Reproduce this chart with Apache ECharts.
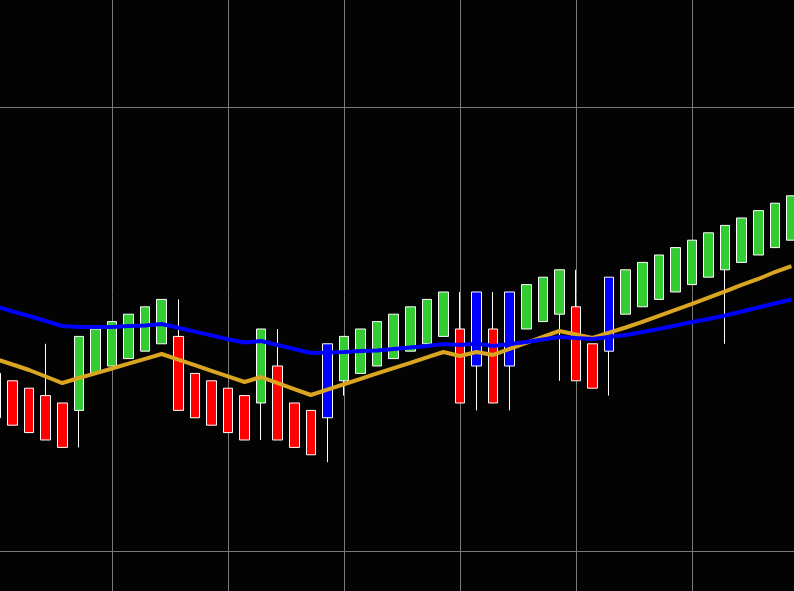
<!DOCTYPE html>
<html>
<head>
<meta charset="utf-8">
<script src="https://cdn.jsdelivr.net/npm/echarts@6/dist/echarts.min.js"></script>
<style>
html,body{margin:0;padding:0;background:#030303;}
#chart{width:794px;height:591px;}
</style>
</head>
<body>
<div id="chart"></div>
<script>
// ---- data ----
var openVals  = [84,83,82,81,80,79,84,85,86,87,88,89,84,83,82,81,80,85,80,79,78,83,84,85,86,87,88,89,90,85,90,85,90,91,92,93,88,87,92,93,94,95,96,97,98,99,100,101,102];
var closeVals = [78,77,76,75,74,89,90,91,92,93,94,79,78,77,76,75,90,75,74,73,88,89,90,91,92,93,94,95,80,95,80,95,96,97,98,83,82,97,98,99,100,101,102,103,104,105,106,107,108];
var lowVals   = [78,77,76,75,74,74,84,85,86,87,88,79,78,77,76,75,75,75,74,73,72,81,84,85,86,87,88,89,80,79,80,79,90,91,83,83,82,81,92,93,94,95,96,97,88,99,100,101,102];
var highVals  = [84,83,82,88,80,89,90,91,92,93,94,94,84,83,82,81,90,90,80,79,88,89,90,91,92,93,94,95,95,95,95,95,96,97,98,98,88,97,98,99,100,101,102,103,104,105,106,107,108];
var blueCandles = [20,29,31,37];

var orangeLine = [85.95,85.20,84.46,83.58,82.70,83.38,84.01,84.66,85.31,85.97,86.62,85.86,85.11,84.35,83.59,82.84,83.51,82.70,81.89,81.08,81.81,82.53,83.26,83.99,84.72,85.43,86.16,86.89,86.35,86.89,86.49,87.30,88.11,88.92,89.73,89.26,88.78,89.50,90.20,90.95,91.76,92.57,93.38,94.23,95.07,95.95,96.76,97.70,98.51];
var blueLine   = [93.04,92.36,91.76,91.08,90.41,90.27,90.27,90.27,90.41,90.47,90.68,90.16,89.65,89.14,88.62,88.18,88.38,87.84,87.30,86.76,86.82,86.89,87.03,87.09,87.30,87.50,87.70,87.97,87.84,88.04,87.70,87.97,88.24,88.58,88.92,88.78,88.65,88.92,89.19,89.59,90.00,90.47,90.95,91.35,91.82,92.36,92.91,93.45,93.99];

var xGridTicks = [7,14,21,28,35,42];
var yGridTicks = [60,120];
var xRange = {min: 0.2414, max: 48.156};
var yRange = {min: 54.594, max: 134.459};

// ---- build ----
var candleData = openVals.map(function (o, i) {
  var item = {value: [i, o, closeVals[i], lowVals[i], highVals[i]]};
  if (blueCandles.indexOf(i) >= 0) {
    item.itemStyle = {color: '#0000ff', color0: '#0000ff', borderColor: '#ffffff', borderColor0: '#ffffff'};
  }
  return item;
});
var orangeData = orangeLine.map(function (v, i) { return [i, v]; });
var blueData = blueLine.map(function (v, i) { return [i, v]; });
var gridLines = xGridTicks.map(function (t) { return {xAxis: t}; })
  .concat(yGridTicks.map(function (t) { return {yAxis: t}; }));

var chart = echarts.init(document.getElementById('chart'), null, {renderer: 'canvas'});
chart.setOption({
  backgroundColor: '#030303',
  animation: false,
  grid: {left: 0, right: 0, top: 0, bottom: 0, containLabel: false},
  xAxis: {
    type: 'value',
    min: xRange.min,
    max: xRange.max,
    axisLine: {show: false},
    axisTick: {show: false},
    axisLabel: {show: false},
    splitLine: {show: false}
  },
  yAxis: {
    type: 'value',
    min: yRange.min,
    max: yRange.max,
    axisLine: {show: false},
    axisTick: {show: false},
    axisLabel: {show: false},
    splitLine: {show: false}
  },
  series: [
    {
      type: 'line',
      data: [],
      z: 0,
      silent: true,
      markLine: {
        silent: true,
        z: 0,
        symbol: ['none', 'none'],
        label: {show: false},
        lineStyle: {color: '#7a7a7a', width: 1, type: 'solid'},
        data: gridLines
      }
    },
    {
      type: 'candlestick',
      data: candleData,
      encode: {x: 0, y: [1, 2, 3, 4]},
      barWidth: 10,
      clip: false,
      itemStyle: {
        color: '#33cc33',
        color0: '#ff0000',
        borderColor: '#ffffff',
        borderColor0: '#ffffff',
        borderWidth: 1
      },
      z: 2
    },
    {
      type: 'line',
      data: orangeData,
      showSymbol: false,
      symbol: 'none',
      clip: false,
      lineStyle: {color: '#daa520', width: 4},
      z: 3
    },
    {
      type: 'line',
      data: blueData,
      showSymbol: false,
      symbol: 'none',
      clip: false,
      lineStyle: {color: '#0000ff', width: 4},
      z: 4
    }
  ]
});
</script>
</body>
</html>
